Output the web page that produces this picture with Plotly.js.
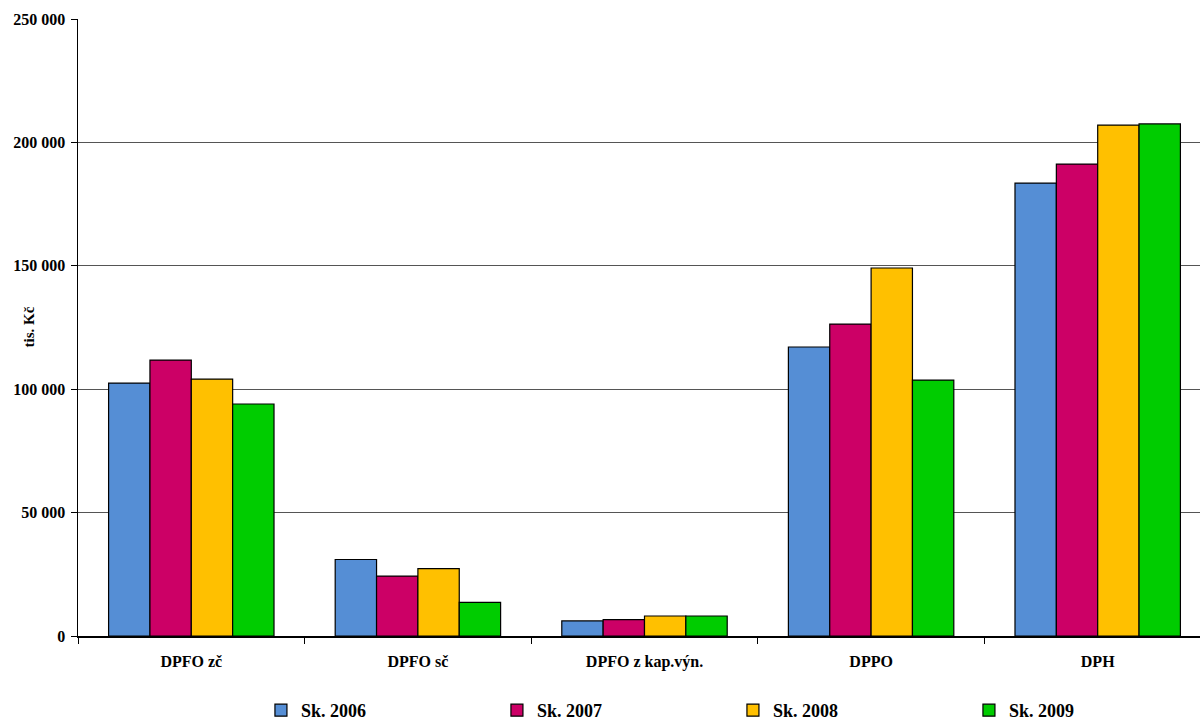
<!DOCTYPE html>
<html>
<head>
<meta charset="utf-8">
<script src="https://cdn.plot.ly/plotly-3.0.1.min.js"></script>
<style>
  html, body { margin: 0; padding: 0; overflow: hidden; background: #fff; width: 1200px; height: 723px; }
  #chart { width: 1212px; height: 729px; }
</style>
</head>
<body>
<div id="chart"></div>
<script>
// Daňové příjmy podle druhu daně (tis. Kč)
const categories = ['DPFO zč', 'DPFO sč', 'DPFO z kap.výn.', 'DPPO', 'DPH'];
const seriesNames = ['Sk. 2006', 'Sk. 2007', 'Sk. 2008', 'Sk. 2009'];
const sk2006 = [102500, 31000, 6100, 117100, 183500];
const sk2007 = [111800, 24300, 6600, 126400, 191200];
const sk2008 = [104100, 27300, 8100, 149100, 207000];
const sk2009 = [94000, 13600, 8100, 103700, 207500];
const colors = ['#558ED5', '#CC0066', '#FFC000', '#00CC00'];
const yTitle = 'tis. Kč';

const serif = 'Liberation Serif, Times New Roman, serif';
const values = [sk2006, sk2007, sk2008, sk2009];

const traces = values.map((v, i) => ({
  type: 'bar',
  name: seriesNames[i],
  x: categories,
  y: v,
  marker: { color: colors[i], line: { color: '#000', width: 1.2 } },
  hoverinfo: 'x+y+name'
}));

const layout = {
  width: 1212,
  height: 729,
  margin: { l: 78, r: 1, t: 19, b: 93 },
  paper_bgcolor: '#fff',
  plot_bgcolor: '#fff',
  barmode: 'group',
  bargap: 0.27,
  bargroupgap: 0,
  separators: ', ',
  font: { family: serif, color: '#000' },
  xaxis: {
    type: 'category',
    showline: true,
    linecolor: '#000',
    linewidth: 1.5,
    ticks: 'outside',
    tickson: 'boundaries',
    ticklen: 6,
    tickcolor: '#000',
    ticklabelstandoff: 10,
    tickfont: { family: serif, size: 16, weight: 'bold', color: '#000' },
    showgrid: false,
    zeroline: false,
    automargin: false
  },
  yaxis: {
    range: [0, 250000],
    dtick: 50000,
    tickformat: ',d',
    showline: true,
    linecolor: '#000',
    linewidth: 1.5,
    ticks: 'outside',
    ticklen: 6,
    tickcolor: '#000',
    ticklabelstandoff: 2,
    tickfont: { family: serif, size: 16, weight: 'bold', color: '#000' },
    showgrid: true,
    gridcolor: '#555',
    gridwidth: 1.2,
    zeroline: false,
    automargin: false
  },
  annotations: [{
    text: yTitle,
    xref: 'paper', yref: 'paper',
    x: -50 / 1133, y: 0.5,
    xanchor: 'center', yanchor: 'middle',
    textangle: -90,
    showarrow: false,
    font: { family: serif, size: 15, weight: 'bold', color: '#000' }
  }],
  legend: {
    orientation: 'h',
    xref: 'container',
    yref: 'container',
    x: 0.2153,
    xanchor: 'left',
    y: 0,
    yanchor: 'bottom',
    entrywidth: 191,
    entrywidthmode: 'pixels',
    itemwidth: 30,
    font: { family: serif, size: 18, weight: 'bold', color: '#000' },
    bgcolor: 'rgba(0,0,0,0)'
  },
  showlegend: true
};

Plotly.newPlot('chart', traces, layout, { displayModeBar: false, staticPlot: true });
</script>
</body>
</html>
